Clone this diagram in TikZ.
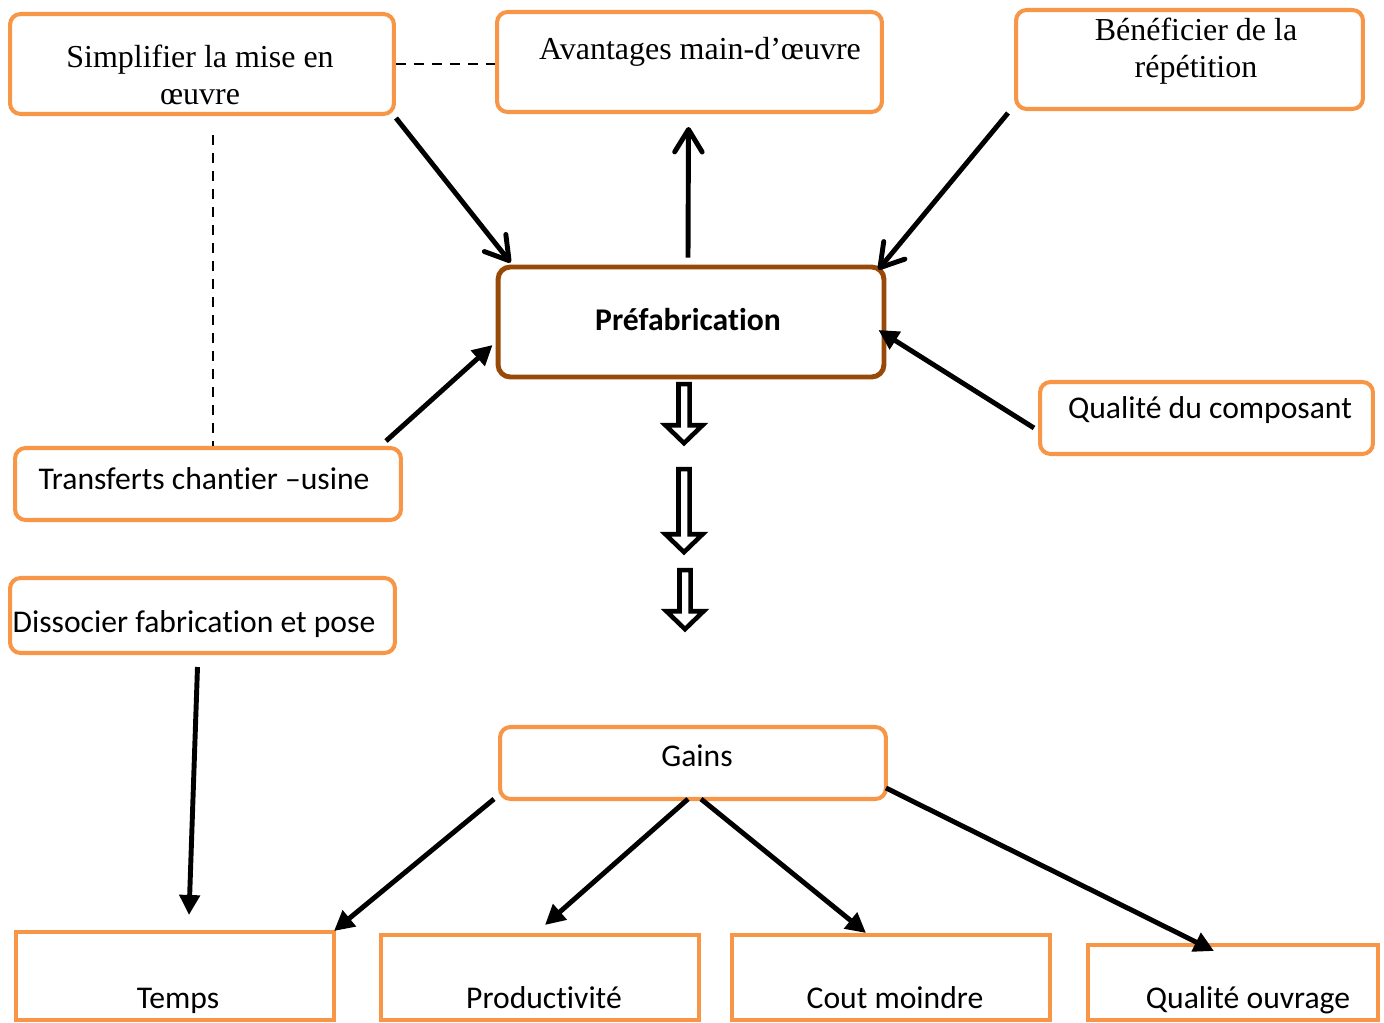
\documentclass[tikz,border=0pt]{standalone}
\usepackage{fontspec}
\setmainfont{Liberation Serif}
\newfontfamily\calib[Ligatures={NoCommon}]{Carlito}
\usepackage{tikz}
\usetikzlibrary{positioning,arrows.meta,shapes.arrows,calc}
\definecolor{boxorange}{HTML}{F79646}
\definecolor{prefbrown}{HTML}{984807}

\begin{document}
\begin{tikzpicture}[
    x=0.02cm, y=-0.02cm,
    box/.style      ={draw=boxorange, line width=2.3pt, rounded corners=6pt, inner sep=0pt},
    sqbox/.style    ={draw=boxorange, line width=2.3pt, inner sep=0pt},
    prefbox/.style  ={draw=prefbrown, line width=2.8pt, rounded corners=7pt, inner sep=0pt},
    stxt/.style     ={font=\fontsize{18.2}{21}\selectfont, align=center, inner sep=0pt},
    ctxt/.style     ={font=\calib\fontsize{18}{21}\selectfont, inner sep=0pt},
    btxt/.style     ={ctxt, anchor=base},
    barb/.style     ={-{Straight Barb[length=4.5mm, width=5.5mm, round]}, line width=2.8pt},
    arr/.style      ={-{Triangle[length=4mm, width=4mm]}, line width=2.8pt},
    dashline/.style ={line width=1.1pt, dash pattern=on 0.2cm off 0.16cm},
    hollow/.style   ={single arrow, draw, line width=2.6pt, fill=white, shape border rotate=270,
                      inner sep=0.065cm, single arrow head extend=0.26cm, single arrow tip angle=92},
  ]
  \useasboundingbox (0,0) rectangle (1384,1023);
  \node[box, minimum width=7.68cm, minimum height=2cm] (simp) at (202,64) {};
  \node[stxt] (simpt) at (200,75) {Simplifier la mise en\\œuvre};
  \node[box, minimum width=7.7cm, minimum height=2cm] (avant) at (689.5,62) {};
  \node[stxt] (avantt) at (700,52) {Avantages main-d’œuvre};
  \node[box, minimum width=6.94cm, minimum height=1.98cm] (bene) at (1189.5,59.5) {};
  \node[stxt] (benet) at (1196,51) {Bénéficier de la\\répétition};
  \node[prefbox, minimum width=7.72cm, minimum height=2.2cm] (pref) at (691,322) {};
  \node[ctxt, font=\calib\bfseries\fontsize{18}{21}\selectfont] (preft) at (688,320) {Préfabrication};
  \node[box, minimum width=6.66cm, minimum height=1.44cm] (qual) at (1206.5,418) {};
  \node[ctxt] (qualt) at (1210,410) {Qualité du composant};
  \node[box, minimum width=7.72cm, minimum height=1.44cm] (trans) at (208,484) {};
  \node[ctxt] (transt) at (204,479) {Transferts chantier –usine};
  \node[box, minimum width=7.7cm, minimum height=1.5cm] (diss) at (202.5,615.5) {};
  \node[ctxt] (disst) at (194,624) {Dissocier fabrication et pose};
  \node[box, minimum width=7.72cm, minimum height=1.44cm] (gains) at (693,763) {};
  \node[ctxt] (gainst) at (697,756) {Gains};
  \node[sqbox, minimum width=6.36cm, minimum height=1.76cm] (temps) at (175,976) {};
  \node[btxt] (tempst) at (178,1009) {Temps};
  \node[sqbox, minimum width=6.36cm, minimum height=1.7cm] (prod) at (540,977.5) {};
  \node[btxt] (prodt) at (544,1009) {Productivité};
  \node[sqbox, minimum width=6.36cm, minimum height=1.7cm] (cout) at (891,977.5) {};
  \node[btxt] (coutt) at (895,1009) {Cout moindre};
  \node[sqbox, minimum width=5.8cm, minimum height=1.5cm] (qouv) at (1233,982.5) {};
  \node[btxt] (qouvt) at (1248,1009) {Qualité ouvrage};
  \node[hollow, minimum height=1.18cm] (d1) at (684,411) {};
  \node[hollow, minimum height=1.66cm] (d2) at (684,508) {};
  \node[hollow, minimum height=1.18cm] (d3) at (685,597) {};
  \draw[dashline] (simp.east) -- (simp.east -| avant.west);
  \draw[dashline] ($(simp.south)+(11,19)$) -- ($(trans.north)+(5,0)$);
  \draw[barb] ($(simp.south east)+(0,2)$) -- ($(pref.north west)+(15,-2)$);
  \draw[barb] ($(pref.north)+(-3,-7)$) -- ($(avant.south)+(-1,13)$);
  \draw[barb] ($(bene.south west)+(-6,2)$) -- ($(pref.north east)+(-8,5)$);
  \draw[arr] ($(trans.north east)+(-17,-5)$) -- ($(pref.west)+(-3,23)$);
  \draw[arr] ($(qual.west)+(-4,10)$) -- ($(pref.east)+(-8,8)$);
  \draw[arr] ($(diss.south)+(-5,12)$) -- ($(temps.north)+(14,-15)$);
  \draw[arr] ($(gains.south west)+(-4,-2)$) -- ($(temps.north east)+(-2,1)$);
  \draw[arr] ($(gains.south)+(-5,-2)$) -- ($(prod.north)+(5,-8)$);
  \draw[arr] ($(gains.south)+(8,-2)$) -- ($(cout.north)+(-25,0)$);
  \draw[arr] ($(gains.east)+(-2,25)$) -- ($(qouv.north)+(-19,8)$);
\end{tikzpicture}
\end{document}
